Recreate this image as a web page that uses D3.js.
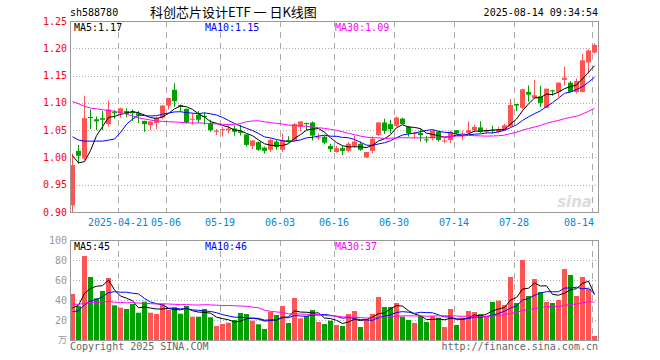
<!DOCTYPE html>
<html><head><meta charset="utf-8">
<script src="https://cdn.jsdelivr.net/npm/d3@7/dist/d3.min.js"></script>
<style>body{margin:0;background:#fff}svg{display:block}</style>
</head><body>
<svg id="c" width="660" height="360"></svg>
<script>
// ---------- data ----------
const code = "sh588780";
const title = "科创芯片设计ETF 一 日K线图";
const stamp = "2025-08-14 09:34:54";
const tickIdx = [8, 16, 25, 35, 44, 54, 64, 74, 87];
const tickLabels = ["2025-04-21", "05-06", "05-19", "06-03", "06-16", "06-30", "07-14", "07-28", "08-14"];
const priceTicks = [0.90, 0.95, 1.00, 1.05, 1.10, 1.15, 1.20, 1.25];
const volTicks = [20, 40, 60, 80, 100];

const opens = [0.912,1.012,0.998,1.074,1.070,1.072,1.061,1.083,1.081,1.085,1.084,1.081,1.067,1.059,1.063,1.073,1.095,1.124,1.096,1.089,
1.069,1.078,1.076,1.063,1.047,1.050,1.050,1.053,1.048,1.042,1.021,1.028,1.018,1.014,1.029,1.014,1.032,1.031,1.056,1.063,
1.064,1.035,1.038,1.021,1.010,1.017,1.012,1.021,1.025,1.000,1.012,1.041,1.064,1.061,1.058,1.071,1.056,1.043,1.045,1.033,
1.035,1.047,1.030,1.032,1.050,1.042,1.045,1.050,1.055,1.047,1.050,1.047,1.051,1.057,1.098,1.091,1.120,1.109,1.112,1.091,
1.123,1.120,1.142,1.137,1.120,1.120,1.174,1.192];
const highs = [1.007,1.023,1.113,1.088,1.075,1.085,1.104,1.087,1.091,1.090,1.088,1.085,1.067,1.066,1.075,1.096,1.109,1.136,1.097,1.090,
1.081,1.085,1.082,1.069,1.052,1.056,1.059,1.058,1.060,1.042,1.032,1.029,1.020,1.035,1.032,1.044,1.039,1.063,1.066,1.064,
1.066,1.044,1.039,1.025,1.021,1.021,1.028,1.040,1.029,1.010,1.038,1.065,1.071,1.069,1.075,1.073,1.058,1.047,1.053,1.039,
1.050,1.049,1.035,1.049,1.050,1.049,1.066,1.060,1.066,1.053,1.058,1.056,1.062,1.107,1.098,1.126,1.132,1.142,1.131,1.126,
1.124,1.138,1.166,1.140,1.145,1.190,1.198,1.209];
const lows = [0.900,0.989,0.995,1.052,1.050,1.050,1.056,1.071,1.073,1.074,1.067,1.063,1.047,1.050,1.052,1.070,1.088,1.093,1.084,1.062,
1.060,1.063,1.060,1.047,1.041,1.038,1.044,1.040,1.040,1.020,1.015,1.012,1.007,1.010,1.014,1.010,1.027,1.029,1.048,1.050,
1.031,1.032,1.024,1.010,1.009,1.004,1.009,1.018,1.012,0.999,1.007,1.039,1.043,1.044,1.056,1.060,1.038,1.035,1.029,1.027,
1.031,1.029,1.026,1.026,1.043,1.032,1.044,1.047,1.045,1.044,1.044,1.044,1.050,1.056,1.085,1.088,1.102,1.108,1.092,1.091,
1.113,1.111,1.132,1.119,1.117,1.119,1.154,1.190];
const closes = [0.986,1.003,1.072,1.072,1.066,1.069,1.088,1.081,1.090,1.080,1.081,1.077,1.061,1.066,1.072,1.095,1.109,1.103,1.093,1.064,
1.071,1.069,1.074,1.050,1.049,1.052,1.053,1.047,1.045,1.023,1.031,1.014,1.012,1.032,1.019,1.032,1.031,1.061,1.066,1.061,
1.040,1.037,1.027,1.015,1.017,1.012,1.025,1.029,1.014,1.010,1.034,1.064,1.049,1.052,1.073,1.061,1.044,1.045,1.041,1.032,
1.049,1.032,1.031,1.047,1.044,1.044,1.050,1.056,1.047,1.049,1.049,1.052,1.059,1.096,1.095,1.125,1.115,1.114,1.100,1.126,
1.121,1.137,1.146,1.120,1.140,1.178,1.196,1.206];
const volumes = [46,34,84,63,41.7,49,62,34.7,32.3,31,36,27.3,38.3,27.3,26,36,30,32.7,26.3,34,
23.3,23.3,31,22.7,14,16,17.3,20,27,26,19.3,15.7,11,28,25,34,17,42,21.7,24,
30,18,16,19.3,15,14,26,29,13,20.7,26,43,33,33,37,23.3,20,17,24,18,
24,22.3,13,31,15,22.3,29,28,26,24,38,39.3,35,63,37,80,44,61,48,38,
37,40,71,65,44,63,51,4];
// closes / volumes of the 29 sessions before the first visible one (only feed the moving averages)
const priorCloses = [1.120,1.222,1.162,1.110,1.114,1.133,1.126,1.165,1.155,1.186,1.182,1.121,1.126,1.117,1.125,1.124,1.118,1.111,1.094,1.080,
1.0625,1.092,1.072,1.066,1.069,1.070,1.061,0.970,0.930];
const priorVolumes = [45,52,38,41,36,48,55,42,37,33,40,44,39,35,30,38,42,36,34,32,
26,22,27,24,24,20,25,38,31];

// ---------- layout ----------
const svg = d3.select("#c");
const L = 70, R = 598;
const mainTop = 21, mainBot = 212, volTop = 240, volBot = 340;
const n = closes.length;
const x = d3.scaleLinear().domain([0, n - 1]).range([72.5, 72.5 + 6 * (n - 1)]);
const yP = d3.scaleLinear().domain([0.90, 1.25]).range([mainBot, mainTop]);
const yV = d3.scaleLinear().domain([0, 100]).range([volBot, volTop]);
const RED = "#ff5454", GREEN = "#00a000", GRID = "#aaaaaa";
const mono = "'DejaVu Sans Mono', monospace";
const FS = 10;
const px = v => Math.round(v) + 0.5;

function ma(series, prior, k) {
  const all = prior.concat(series);
  const off = prior.length;
  return series.map((_, i) => d3.mean(all.slice(off + i - k + 1, off + i + 1)));
}

// header
svg.append("text").attr("x", 70).attr("y", 16).attr("font-family", mono).attr("font-size", FS).text(code);
svg.append("text").attr("x", 150).attr("y", 17).attr("font-family", "'Noto Sans CJK SC', sans-serif").attr("font-size", 13).attr("xml:space", "preserve").text(title);
svg.append("text").attr("x", R).attr("y", 16).attr("text-anchor", "end").attr("font-family", mono).attr("font-size", FS).text(stamp);

function panel(top, bot, yS, ticks, fmt, labelColor) {
  const g = svg.append("g");
  ticks.forEach(t => {
    const yy = px(yS(t));
    if (yy > top + 1 && yy < bot) g.append("line").attr("x1", L).attr("x2", R).attr("y1", yy).attr("y2", yy)
      .attr("stroke", GRID).attr("stroke-dasharray", "1,2");
    g.append("text").attr("x", 67).attr("y", yS(t)).attr("dy", "0.35em").attr("text-anchor", "end")
      .attr("font-family", mono).attr("font-size", FS).attr("fill", labelColor).text(fmt(t));
  });
  tickIdx.forEach(i => {
    const xx = Math.round(x(i) - 2.5) + 0.5;
    g.append("line").attr("x1", xx).attr("x2", xx).attr("y1", top).attr("y2", bot)
      .attr("stroke", GRID).attr("stroke-dasharray", "6,5");
  });
  return g;
}
panel(mainTop, mainBot, yP, priceTicks, d3.format(".2f"), "#ff0000");
panel(volTop, volBot, yV, volTicks, d3.format("d"), "#999999");
svg.append("text").attr("x", 67).attr("y", volBot).attr("dy", "0.35em").attr("text-anchor", "end")
  .attr("font-family", "'Noto Sans CJK SC', sans-serif").attr("font-size", 9).attr("fill", "#999").text("万");

// x labels
tickIdx.forEach((i, k) => {
  let cx = Math.round(x(i) - 2.5);
  const w = tickLabels[k].length * 6;
  let anchor = "middle";
  if (cx + w / 2 > R - 2) { cx = R - 4; anchor = "end"; }
  svg.append("text").attr("x", cx).attr("y", 226).attr("text-anchor", anchor)
    .attr("font-family", mono).attr("font-size", FS).attr("fill", "#0b84d8").text(tickLabels[k]);
});

// sina watermark
svg.append("text").attr("x", 592).attr("y", 207).attr("text-anchor", "end").attr("font-family", "'DejaVu Sans', sans-serif")
  .attr("font-size", 15).attr("font-weight", "bold").attr("font-style", "italic").attr("fill", "#dcdcdc").text("sina");

// candles
const idx = d3.range(n);
const up = i => closes[i] >= opens[i];
const cg = svg.append("g");
cg.selectAll("line.w").data(idx).join("line")
  .attr("x1", i => x(i)).attr("x2", i => x(i))
  .attr("y1", i => yP(highs[i])).attr("y2", i => yP(lows[i]))
  .attr("stroke", i => up(i) ? RED : GREEN).attr("stroke-width", 1);
cg.selectAll("rect").data(idx).join("rect")
  .attr("x", i => x(i) - 2.5).attr("width", 5)
  .attr("y", i => yP(Math.max(opens[i], closes[i])))
  .attr("height", i => Math.max(1, yP(Math.min(opens[i], closes[i])) - yP(Math.max(opens[i], closes[i]))))
  .attr("fill", i => up(i) ? RED : GREEN);

// volume bars
svg.append("g").selectAll("rect").data(idx).join("rect")
  .attr("x", i => x(i) - 2.5).attr("width", 5)
  .attr("y", i => yV(volumes[i])).attr("height", i => yV(0) - yV(volumes[i]))
  .attr("fill", i => up(i) ? RED : GREEN);

// moving averages
const maDefs = [[5, "#000000", 74], [10, "#0000ff", 205], [30, "#ff00ff", 335]];
maDefs.forEach(([k, col, lx]) => {
  const pm = ma(closes, priorCloses, k);
  const vm = ma(volumes, priorVolumes, k);
  svg.append("path").attr("d", d3.line().x((d, i) => x(i)).y(d => yP(d))(pm))
    .attr("fill", "none").attr("stroke", col).attr("stroke-width", 1);
  svg.append("path").attr("d", d3.line().x((d, i) => x(i)).y(d => yV(d))(vm))
    .attr("fill", "none").attr("stroke", col).attr("stroke-width", 1);
  svg.append("text").attr("x", lx).attr("y", mainTop + 10).attr("font-family", mono).attr("font-size", FS)
    .attr("fill", col).text("MA" + k + ":" + pm[n - 1].toFixed(2));
  svg.append("text").attr("x", lx).attr("y", volTop + 10).attr("font-family", mono).attr("font-size", FS)
    .attr("fill", col).text("MA" + k + ":" + Math.floor(vm[n - 1]));
});

// frames
[[mainTop, mainBot], [volTop, volBot]].forEach(([t, b]) => {
  svg.append("rect").attr("x", L + 0.5).attr("y", t + 0.5).attr("width", R - L).attr("height", b - t)
    .attr("fill", "none").attr("stroke", "#999").attr("stroke-width", 1);
});

// footer
svg.append("text").attr("x", 70).attr("y", 350).attr("font-family", mono).attr("font-size", FS).attr("fill", "#666").text("Copyright 2025 SINA.COM");
svg.append("text").attr("x", R).attr("y", 350).attr("text-anchor", "end").attr("font-family", mono).attr("font-size", FS).attr("fill", "#666").text("http://finance.sina.com.cn");
</script>
</body></html>
